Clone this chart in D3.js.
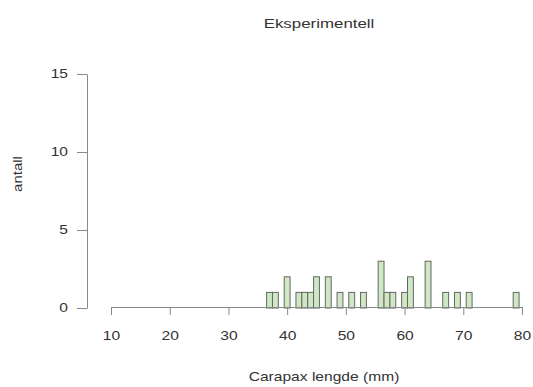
<!DOCTYPE html>
<html>
<head>
<meta charset="utf-8">
<script src="https://cdn.jsdelivr.net/npm/d3@7"></script>
<style>
html,body{margin:0;padding:0;background:#fff;}
svg{display:block;font-family:"Liberation Sans",Arial,sans-serif;}
</style>
</head>
<body>
<script>
const title = "Eksperimentell";
const xLabel = "Carapax lengde (mm)";
const yLabel = "antall";
const binCenters = [37,38,40,42,43,44,45,47,49,51,53,56,57,58,60,61,64,67,69,71,79];
const counts     = [1, 1, 2, 1, 1, 1, 2, 2, 1, 1, 1, 3, 1, 1, 1, 2, 3, 1, 1, 1, 1];
const binWidth = 1;
const xTicks = [10,20,30,40,50,60,70,80];
const yTicks = [0,5,10,15];

const W = 533, H = 387;
const SX = 1.3; // horizontal stretch of glyphs seen in the reference
const svg = d3.select("body").append("svg").attr("width", W).attr("height", H);

const x = d3.scaleLinear().domain([10, 80]).range([111, 522]);
const y = d3.scaleLinear().domain([0, 15]).range([308, 74]);

const axisColor = "#888";
const textColor = "#333";

// bars
svg.append("g").selectAll("rect")
  .data(binCenters.map((c, i) => ({c, n: counts[i]})))
  .join("rect")
  .attr("x", d => x(d.c - binWidth/2))
  .attr("width", d => x(d.c + binWidth/2) - x(d.c - binWidth/2))
  .attr("y", d => y(d.n))
  .attr("height", d => y(0) - y(d.n))
  .attr("fill", "#cfe7c3")
  .attr("stroke", "#666")
  .attr("stroke-width", 1);

// x axis
const gx = svg.append("g").attr("transform", "translate(0,307)")
  .call(d3.axisBottom(x).tickValues(xTicks).tickSize(8).tickPadding(16).tickSizeOuter(0));
gx.select(".domain").attr("stroke", axisColor);
gx.selectAll(".tick line").attr("stroke", axisColor);
gx.selectAll(".tick text").attr("fill", textColor).style("font-size", "12px")
  .attr("transform", `scale(${SX},1)`);

// y axis
const gy = svg.append("g").attr("transform", "translate(87,0)")
  .call(d3.axisLeft(y).tickValues(yTicks).tickSize(10).tickPadding(8).tickSizeOuter(0));
gy.select(".domain").attr("stroke", axisColor);
gy.selectAll(".tick line").attr("stroke", axisColor);
gy.selectAll(".tick text").attr("fill", textColor).style("font-size", "12px")
  .attr("x", -19 / SX).attr("transform", `scale(${SX},1)`);

// title
svg.append("text").attr("transform", `translate(319,28) scale(${SX},1)`).attr("text-anchor", "middle")
  .attr("fill", textColor).style("font-size", "13px").text(title);

// x label
svg.append("text").attr("transform", `translate(324,381) scale(${SX},1)`).attr("text-anchor", "middle")
  .attr("fill", textColor).style("font-size", "12px").text(xLabel);

// y label
svg.append("text").attr("transform", "translate(22,174) rotate(-90) scale(1.25,1)").attr("text-anchor", "middle")
  .attr("fill", textColor).style("font-size", "12px").text(yLabel);
</script>
</body>
</html>
